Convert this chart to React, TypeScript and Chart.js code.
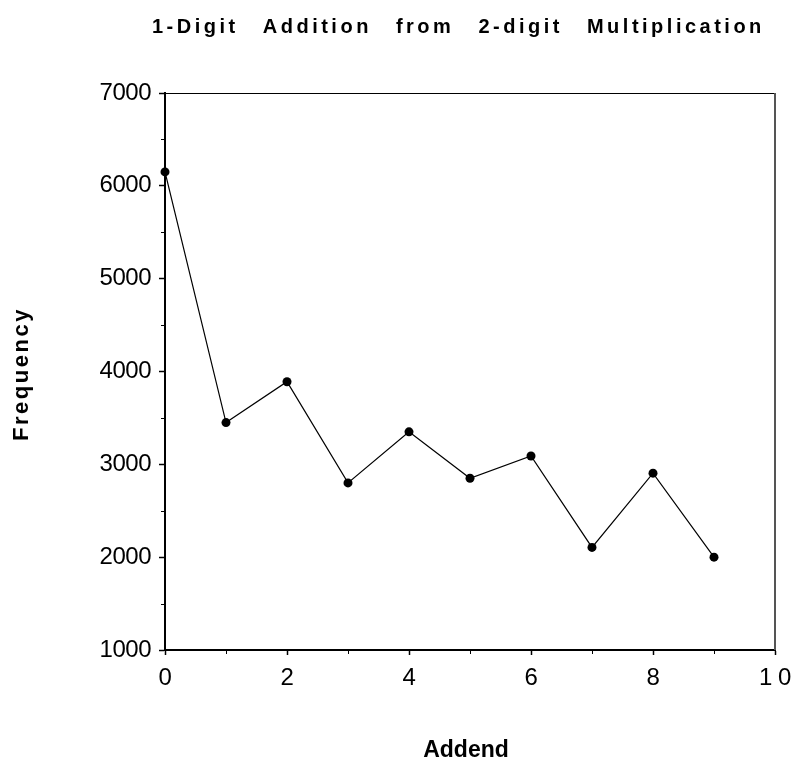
import React, { useEffect, useRef } from "react";
import { Chart, registerables } from "chart.js";

Chart.register(...registerables);

const addends = [0, 1, 2, 3, 4, 5, 6, 7, 8, 9];
const frequency = [6150, 3450, 3890, 2800, 3350, 2850, 3090, 2105, 2905, 2000];
const yMinorTicks = [1500, 2500, 3500, 4500, 5500, 6500];
const xMinorTicks = [1, 3, 5, 7, 9];
const chartTitle = "1-Digit Addition from 2-digit Multiplication";
const xTitle = "Addend";
const yTitle = "Frequency";

const FONT = "'Liberation Sans', Arial, Helvetica, sans-serif";

const decorPlugin = {
  id: "decor",
  beforeDraw(chart: any) {
    (chart.ctx as any).letterSpacing = "-0.5px";
  },
  afterDraw(chart: any) {
    const ctx = chart.ctx as CanvasRenderingContext2D;
    const ca = chart.chartArea;
    const xs = chart.scales.x;
    const ys = chart.scales.y;
    ctx.save();
    (ctx as any).letterSpacing = "0px";
    // top frame line
    ctx.strokeStyle = "#000";
    ctx.lineWidth = 1;
    ctx.beginPath();
    ctx.moveTo(ca.left, ca.top + 0.5);
    ctx.lineTo(ca.right, ca.top + 0.5);
    ctx.stroke();
    // right frame line
    ctx.strokeStyle = "#555";
    ctx.lineWidth = 2;
    ctx.beginPath();
    ctx.moveTo(ca.right, ca.top);
    ctx.lineTo(ca.right, ca.bottom);
    ctx.stroke();
    // minor ticks
    ctx.strokeStyle = "#000";
    ctx.lineWidth = 1;
    ctx.beginPath();
    for (const v of yMinorTicks) {
      const py = Math.round(ys.getPixelForValue(v)) + 0.5;
      ctx.moveTo(ca.left - 4, py);
      ctx.lineTo(ca.left, py);
    }
    for (const v of xMinorTicks) {
      const px = Math.round(xs.getPixelForValue(v)) + 0.5;
      ctx.moveTo(px, ca.bottom);
      ctx.lineTo(px, ca.bottom + 4);
    }
    ctx.stroke();

    // chart title
    ctx.fillStyle = "#000";
    ctx.font = `bold 20px ${FONT}`;
    (ctx as any).letterSpacing = "3.5px";
    (ctx as any).wordSpacing = "15px";
    ctx.textAlign = "left";
    ctx.textBaseline = "alphabetic";
    ctx.fillText(chartTitle, 152, 33);
    (ctx as any).wordSpacing = "0px";

    // y title
    ctx.font = `bold 22px ${FONT}`;
    (ctx as any).letterSpacing = "2.5px";
    ctx.save();
    ctx.translate(28, 375);
    ctx.rotate(-Math.PI / 2);
    ctx.textAlign = "center";
    ctx.fillText(yTitle, 1, 0);
    ctx.restore();

    // x title
    (ctx as any).letterSpacing = "0px";
    ctx.font = `bold 23px ${FONT}`;
    ctx.textAlign = "center";
    ctx.fillText(xTitle, 466, 757);
    ctx.restore();
  },
};

export default function App() {
  const ref = useRef<HTMLCanvasElement | null>(null);
  useEffect(() => {
    document.body.style.margin = "0";
    const canvas = ref.current;
    if (!canvas) return;
    const chart = new Chart(canvas, {
      type: "line",
      data: {
        datasets: [
          {
            data: addends.map((a, i) => ({ x: a, y: frequency[i] })),
            borderColor: "#000",
            borderWidth: 1.2,
            backgroundColor: "#000",
            pointBackgroundColor: "#000",
            pointBorderWidth: 0,
            pointRadius: 4.5,
            tension: 0,
            clip: false as any,
          },
        ],
      },
      options: {
        animation: false,
        responsive: false,
        maintainAspectRatio: false,
        layout: { padding: { top: 93, right: 17, left: 0, bottom: 0 } },
        plugins: { legend: { display: false }, title: { display: false }, tooltip: { enabled: false } },
        scales: {
          x: {
            type: "linear",
            min: 0,
            max: 10,
            ticks: {
              stepSize: 2,
              autoSkip: false,
              maxRotation: 0,
              color: "#000",
              padding: 9,
              font: { family: FONT, size: 24 },
              callback: (v: any) => (v === 10 ? "1 0" : String(v)),
            },
            grid: { drawOnChartArea: false, tickLength: 5, tickColor: "#000", tickWidth: 1.5 },
            border: { color: "#000", width: 2 },
            afterFit: (s: any) => {
              s.height = 114;
              s.paddingLeft = 0;
              s.paddingRight = 0;
            },
          },
          y: {
            type: "linear",
            min: 1000,
            max: 7000,
            ticks: {
              stepSize: 1000,
              color: "#000",
              padding: 8,
              font: { family: FONT, size: 24 },
              callback: (v: any) => String(v),
            },
            grid: { drawOnChartArea: false, tickLength: 6, tickColor: "#000", tickWidth: 1.5 },
            border: { color: "#000", width: 2 },
            afterFit: (s: any) => {
              s.width = 165;
              s.paddingTop = 0;
              s.paddingBottom = 0;
            },
          },
        },
      },
      plugins: [decorPlugin],
    });
    return () => chart.destroy();
  }, []);
  return (
    <div style={{ width: 792, height: 764 }}>
      <canvas ref={ref} width={792} height={764} style={{ display: "block", width: 792, height: 764 }} />
    </div>
  );
}
